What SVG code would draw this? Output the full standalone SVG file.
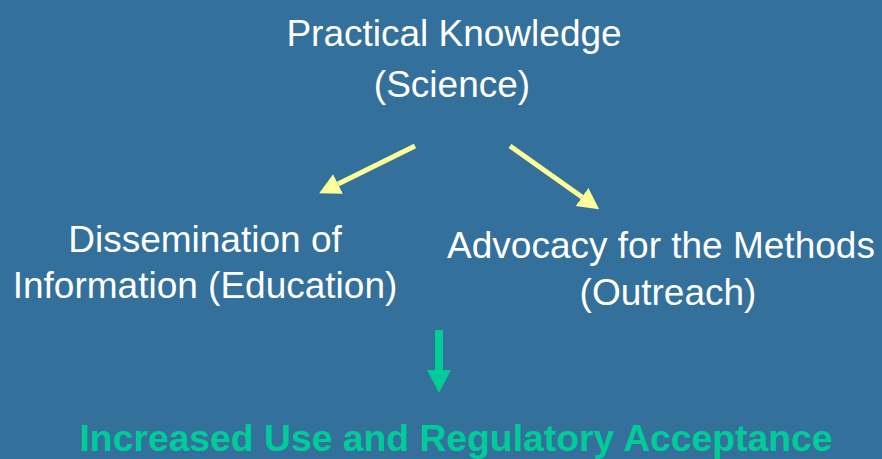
<svg xmlns="http://www.w3.org/2000/svg" width="882" height="459" viewBox="0 0 882 459">
<defs>
<style>
.t{font-family:"Liberation Sans",Arial,sans-serif;font-size:37px;fill:#ffffff;text-anchor:middle}
.g{font-family:"Liberation Sans",Arial,sans-serif;font-size:37px;font-weight:bold;fill:#00CC99;text-anchor:middle}
.y{stroke:#FFFF99;stroke-width:5;fill:none}
</style>
<marker id="yh" markerUnits="userSpaceOnUse" markerWidth="22" markerHeight="24" refX="0" refY="11" orient="auto" viewBox="0 0 22 22">
<path d="M0,0 L21,11 L0,22 z" fill="#FFFF99"/>
</marker>
</defs>
<rect width="882" height="459" fill="#33709B"/>
<g id="n-knowledge">
<text class="t" x="454" y="46">Practical Knowledge</text>
<text class="t" x="452" y="97">(Science)</text>
</g>
<g id="n-dissemination">
<text class="t" x="205" y="252">Dissemination of</text>
<text class="t" x="205" y="298">Information (Education)</text>
</g>
<g id="n-advocacy">
<text class="t" x="661" y="258">Advocacy for the Methods</text>
<text class="t" x="668" y="305">(Outreach)</text>
</g>
<g id="n-acceptance">
<text class="g" x="456" y="451" textLength="753" lengthAdjust="spacingAndGlyphs">Increased Use and Regulatory Acceptance</text>
</g>
<g id="connectors">
<line class="y" x1="415" y1="146" x2="338" y2="184" marker-end="url(#yh)"/>
<line class="y" x1="510" y1="146" x2="582" y2="197" marker-end="url(#yh)"/>
<rect x="435" y="330" width="8" height="41" fill="#00CC99"/>
<polygon points="427,370 451,370 439,393" fill="#00CC99"/>
</g>
</svg>
